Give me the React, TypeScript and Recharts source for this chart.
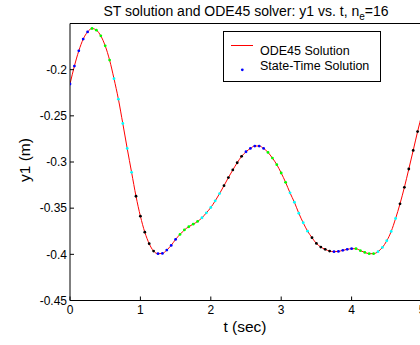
import React from "react";
import { ComposedChart, Line, Scatter, XAxis, YAxis, Legend, Label } from "recharts";

// time nodes (sec), 16 elements x 5 nodes, plus the end point
const times = [
  0, 0.0625, 0.125, 0.1875, 0.25, 0.3125, 0.375, 0.4375, 0.5, 0.5625,
  0.625, 0.6875, 0.75, 0.8125, 0.875, 0.9375, 1.0, 1.0625, 1.125, 1.1875,
  1.25, 1.3125, 1.375, 1.4375, 1.5, 1.5625, 1.625, 1.6875, 1.75, 1.8125,
  1.875, 1.9375, 2.0, 2.0625, 2.125, 2.1875, 2.25, 2.3125, 2.375, 2.4375,
  2.5, 2.5625, 2.625, 2.6875, 2.75, 2.8125, 2.875, 2.9375, 3.0, 3.0625,
  3.125, 3.1875, 3.25, 3.3125, 3.375, 3.4375, 3.5, 3.5625, 3.625, 3.6875,
  3.75, 3.8125, 3.875, 3.9375, 4.0, 4.0625, 4.125, 4.1875, 4.25, 4.3125,
  4.375, 4.4375, 4.5, 4.5625, 4.625, 4.6875, 4.75, 4.8125, 4.875, 4.9375,
  5.0,
];

// y1 (m)
const y1 = [
  -0.2155, -0.1961, -0.1796, -0.1669, -0.1591, -0.1554, -0.1572, -0.1634, -0.1742, -0.1896,
  -0.2098, -0.232, -0.2583, -0.2853, -0.3112, -0.3371, -0.3587, -0.376, -0.3885, -0.3965,
  -0.3993, -0.399, -0.3954, -0.3903, -0.3838, -0.3784, -0.3736, -0.3701, -0.3673, -0.3644,
  -0.3604, -0.355, -0.3493, -0.3421, -0.3342, -0.3256, -0.3169, -0.3086, -0.3008, -0.2939,
  -0.2889, -0.2853, -0.2827, -0.2827, -0.2853, -0.2896, -0.2957, -0.3029, -0.3119, -0.322,
  -0.3334, -0.3436, -0.3555, -0.3658, -0.3749, -0.382, -0.3882, -0.3921, -0.3946, -0.3965,
  -0.3971, -0.3968, -0.3957, -0.3946, -0.3939, -0.3939, -0.396, -0.3979, -0.3993, -0.3993,
  -0.3971, -0.3925, -0.3853, -0.3752, -0.3612, -0.3453, -0.3274, -0.3076, -0.2875, -0.267,
  -0.248,
];

const xTicks = [0, 1, 2, 3, 4, 5];
const yTicks = [-0.45, -0.4, -0.35, -0.3, -0.25, -0.2];
const elementColors = ["#0000ff", "#00ff00", "#00ffff", "#000000"];
const nodesPerElement = 5;

const data = times.map((t, i) => ({
  t,
  ode: y1[i],
  st: y1[i],
  color: elementColors[Math.floor(i / nodesPerElement) % elementColors.length],
}));

const FONT = '"Liberation Sans", Arial, sans-serif';

const renderDot = (props: any) => (
  <circle cx={props.cx} cy={props.cy} r={1.4} fill={props.payload.color} />
);

const renderTitle = (props: any) => {
  const vb = props.viewBox || { x: 70, width: 352 };
  return (
    <text x={vb.x + vb.width / 2} y={16} textAnchor="middle" fontSize={14} fontFamily={FONT} fill="#000">
      ST solution and ODE45 solver: y1 vs. t, n
      <tspan dy={4} fontSize={10}>e</tspan>
      <tspan dy={-4}>=16</tspan>
    </text>
  );
};

const renderXLabel = (props: any) => {
  const vb = props.viewBox || { x: 70, width: 352 };
  return (
    <text x={vb.x + vb.width / 2 - 1} y={332} textAnchor="middle" fontSize={15.5} fontFamily={FONT} fill="#000">
      t (sec)
    </text>
  );
};

const renderYLabel = () => (
  <text
    x={24}
    y={160}
    textAnchor="middle"
    dominantBaseline="central"
    transform="rotate(-90, 24, 160)"
    fontSize={15.5}
    fontFamily={FONT}
    fill="#000"
  >
    y1 (m)
  </text>
);

const renderLegend = () => (
  <svg width={158} height={51} style={{ display: "block" }}>
    <rect x={0.5} y={0.5} width={157} height={50} fill="#fff" stroke="#000" strokeWidth={1} />
    <line x1={8} y1={14.5} x2={30} y2={14.5} stroke="#ff0000" strokeWidth={1} />
    <text x={37} y={23.5} fontSize={12.5} fontFamily={FONT} fill="#000">ODE45 Solution</text>
    <circle cx={19.3} cy={38.8} r={1.4} fill="#0000ff" />
    <text x={37} y={38.5} fontSize={12.5} fontFamily={FONT} fill="#000">State-Time Solution</text>
  </svg>
);

const tickStyle = { fontSize: 12, fontFamily: FONT, fill: "#000" };

export default function App() {
  return (
    <div style={{ position: "fixed", left: 0, top: 0, width: 420, height: 345, overflow: "hidden", background: "#fff" }}>
      <ComposedChart width={440} height={345} data={data} margin={{ top: 22.5, right: 17, bottom: 0, left: 0 }}>
        <XAxis
          dataKey="t"
          type="number"
          domain={[0, 5]}
          ticks={xTicks}
          allowDataOverflow
          stroke="#000"
          tickSize={-4}
          tickMargin={9}
          tick={tickStyle}
          height={44.5}
        >
          <Label content={renderXLabel} />
        </XAxis>
        <XAxis
          xAxisId="top"
          orientation="top"
          dataKey="t"
          type="number"
          domain={[0, 5]}
          ticks={xTicks}
          allowDataOverflow
          stroke="#000"
          tickSize={-4}
          tick={false}
          height={1}
        >
          <Label content={renderTitle} />
        </XAxis>
        <YAxis
          type="number"
          domain={[-0.45, -0.15]}
          ticks={yTicks}
          allowDataOverflow
          stroke="#000"
          tickSize={-4}
          tickMargin={7}
          tick={tickStyle}
          width={70}
        >
          <Label content={renderYLabel} />
        </YAxis>
        <YAxis
          yAxisId="right"
          orientation="right"
          type="number"
          domain={[-0.45, -0.15]}
          ticks={yTicks}
          allowDataOverflow
          stroke="#000"
          tickSize={-4}
          tick={false}
          width={1}
        />
        <Legend
          layout="vertical"
          align="center"
          verticalAlign="middle"
          content={renderLegend}
          wrapperStyle={{ position: "absolute", left: 223, top: 30.5, width: 158, height: 51 }}
        />
        <Line
          xAxisId="top"
          yAxisId="right"
          dataKey="ode"
          type="monotone"
          stroke="#ff0000"
          strokeWidth={1}
          dot={false}
          activeDot={false}
          isAnimationActive={false}
        />
        <Scatter dataKey="st" shape={renderDot} isAnimationActive={false} />
      </ComposedChart>
    </div>
  );
}
